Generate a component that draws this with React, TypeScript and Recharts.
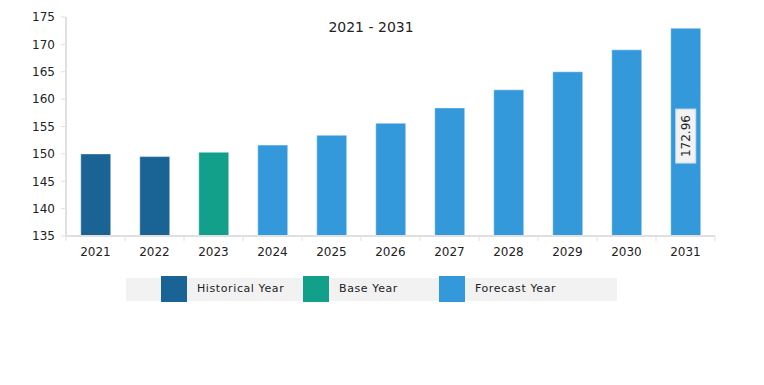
import React from 'react';
import { BarChart, Bar, XAxis, YAxis, Legend, Cell, LabelList } from 'recharts';

const years = ['2021', '2022', '2023', '2024', '2025', '2026', '2027', '2028', '2029', '2030', '2031'];
const values = [150.0, 149.5, 150.3, 151.6, 153.4, 155.6, 158.4, 161.7, 165.0, 169.0, 172.96];
const yearType = ['hist', 'hist', 'base', 'fc', 'fc', 'fc', 'fc', 'fc', 'fc', 'fc', 'fc'];
const yTicks = [135, 140, 145, 150, 155, 160, 165, 170, 175];
const legendItems = [
  { key: 'hist', label: 'Historical Year' },
  { key: 'base', label: 'Base Year' },
  { key: 'fc', label: 'Forecast Year' },
];

const COLORS: Record<string, string> = { hist: '#1a6495', base: '#13a08b', fc: '#3399db' };
const FONT = '"DejaVu Sans", sans-serif';
const W = 764;
const H = 385;
const M = { top: 17, right: 49, left: 0, bottom: 119 };
const Y_W = 66;
const BAND = (W - M.left - M.right - Y_W) / years.length;

const data = years.map((year, i) => ({ year, value: values[i], type: yearType[i] }));

const XTick = (props: any) => {
  const { x, y, payload, index } = props;
  const left = x - BAND / 2;
  return (
    <g>
      <line x1={left} x2={left} y1={y - 8} y2={y - 3} stroke="#e0e0e0" />
      {index === years.length - 1 && (
        <line x1={x + BAND / 2} x2={x + BAND / 2} y1={y - 8} y2={y - 3} stroke="#e0e0e0" />
      )}
      <text x={x} y={y + 12} textAnchor="middle" fontSize={12} fontFamily={FONT} fill="#222">
        {payload.value}
      </text>
    </g>
  );
};

const LastLabel = (props: any) => {
  const { x, y, width, height, index, value } = props;
  if (index !== years.length - 1) return null;
  const cx = x + width / 2;
  const cy = y + height / 2 + 4;
  return (
    <g>
      <rect x={cx - 10} y={cy - 27} width={20} height={54} fill="#f2f2f2" stroke="#c8dcec" />
      <text
        x={cx}
        y={cy}
        transform={`rotate(-90 ${cx} ${cy})`}
        textAnchor="middle"
        dominantBaseline="central"
        fontSize={12}
        fontFamily={FONT}
        fill="#222"
      >
        {value}
      </text>
    </g>
  );
};

const LegendBox = () => (
  <div style={{ position: 'relative', width: W, height: 30, fontFamily: FONT, fontSize: 11, color: '#222' }}>
    <div style={{ position: 'absolute', left: 126, top: 2, width: 491, height: 23, background: '#f2f2f2' }} />
    {legendItems.map((it, i) => {
      const sx = [161, 303, 439][i];
      return (
        <React.Fragment key={it.key}>
          <div style={{ position: 'absolute', left: sx, top: 0, width: 26, height: 26, background: COLORS[it.key] }} />
          <div style={{ position: 'absolute', left: sx + 36, top: 6, letterSpacing: 0.6, whiteSpace: 'nowrap' }}>
            {it.label}
          </div>
        </React.Fragment>
      );
    })}
  </div>
);

export default function App() {
  return (
    <div style={{ position: 'absolute', left: 0, top: 0, width: W, height: H, background: '#fff' }}>
      <div
        style={{
          position: 'absolute',
          left: 0,
          width: W - 22,
          top: 19,
          textAlign: 'center',
          fontFamily: FONT,
          fontSize: 14,
          color: '#222',
        }}
      >
        2021 - 2031
      </div>
      <BarChart width={W} height={H} data={data} margin={M} barCategoryGap="25%">
        <XAxis
          dataKey="year"
          height={30}
          tickLine={false}
          axisLine={{ stroke: '#e0e0e0', strokeWidth: 2 }}
          tick={<XTick />}
          interval={0}
        />
        <YAxis
          width={Y_W}
          domain={[135, 175]}
          ticks={yTicks}
          allowDataOverflow
          tickSize={5}
          tickMargin={6}
          tickLine={{ stroke: '#e0e0e0' }}
          axisLine={{ stroke: '#e0e0e0', strokeWidth: 2 }}
          tick={{ fontSize: 12, fontFamily: FONT, fill: '#222' }}
        />
        <Legend
          layout="horizontal"
          verticalAlign="middle"
          align="center"
          wrapperStyle={{ top: 276, left: 0, width: W }}
          content={<LegendBox />}
        />
        <Bar dataKey="value" isAnimationActive={false} stroke="#ffffff" strokeOpacity={0.45}>
          {data.map((d, i) => (
            <Cell key={`c-${i}`} fill={COLORS[d.type]} />
          ))}
          <LabelList dataKey="value" content={<LastLabel />} />
        </Bar>
      </BarChart>
    </div>
  );
}
